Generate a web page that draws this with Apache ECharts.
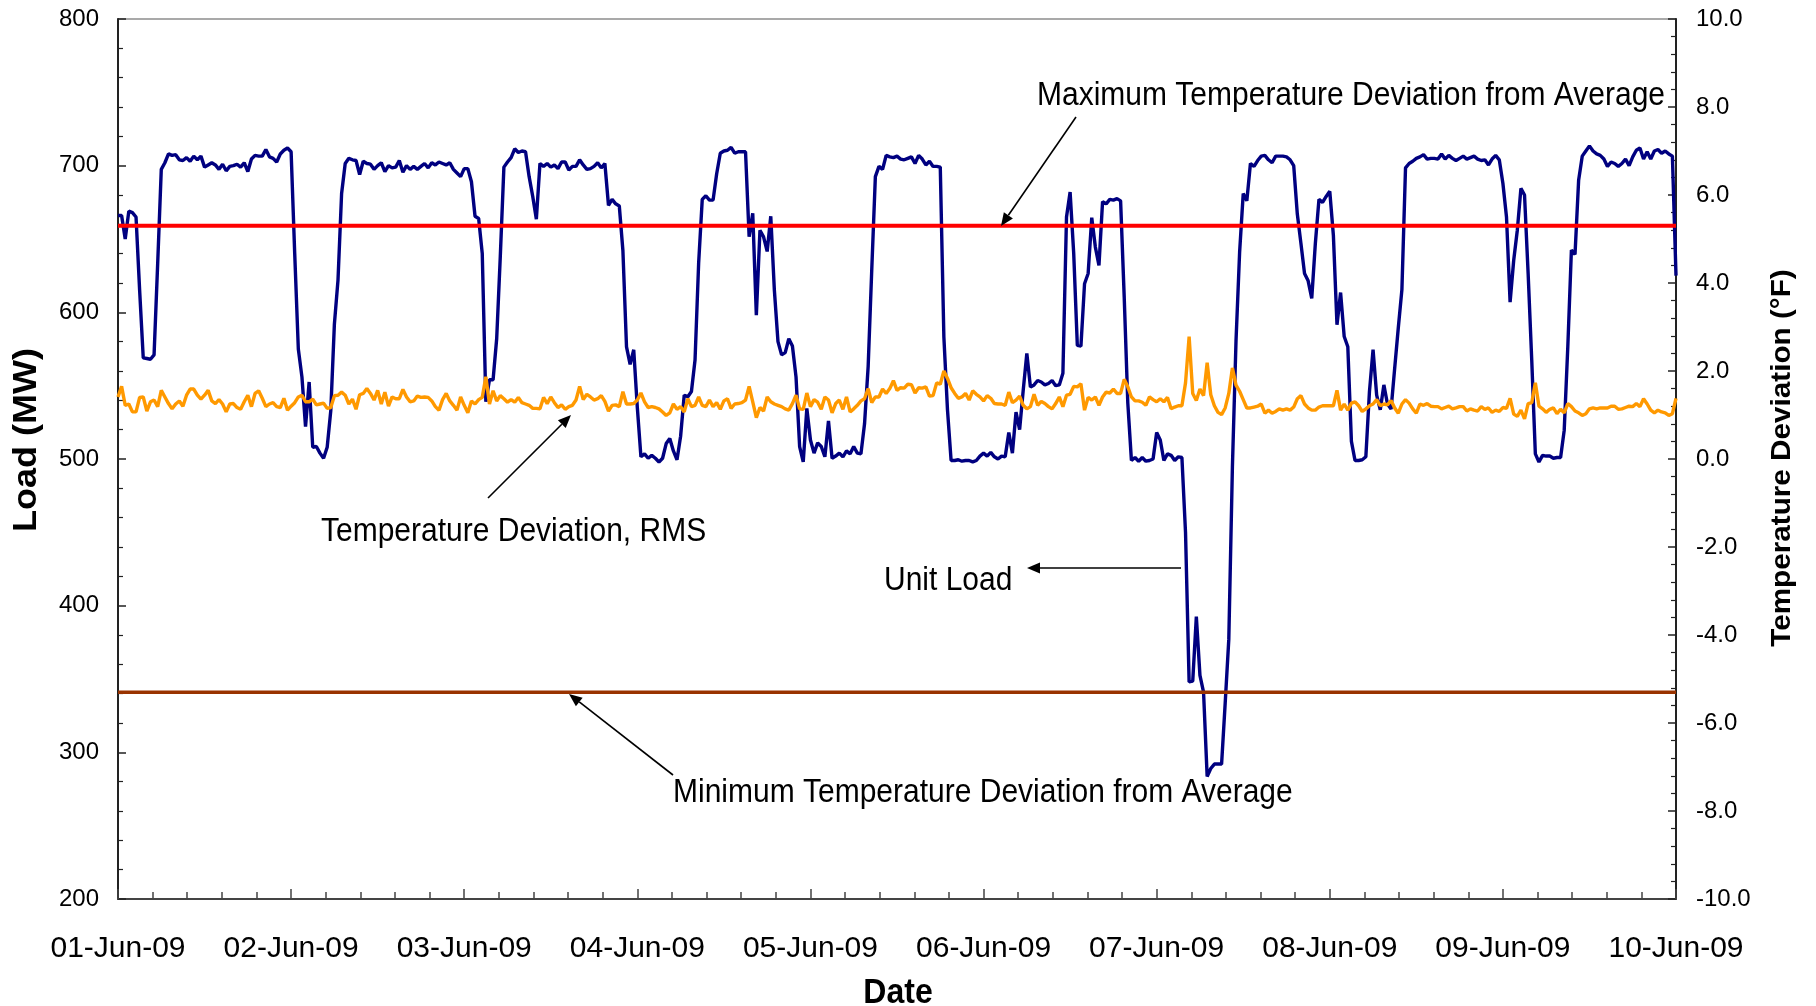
<!DOCTYPE html>
<html>
<head>
<meta charset="utf-8">
<script src="https://cdn.jsdelivr.net/npm/echarts@6/dist/echarts.min.js"></script>
<style>
  html, body { margin: 0; padding: 0; background: #ffffff; }
  #chart { width: 1816px; height: 1006px; }
</style>
</head>
<body>
<div id="chart"></div>
<script>
// Day labels for the x axis (one per 24 h tick)
const dateLabels = ['01-Jun-09', '02-Jun-09', '03-Jun-09', '04-Jun-09', '05-Jun-09',
                    '06-Jun-09', '07-Jun-09', '08-Jun-09', '09-Jun-09', '10-Jun-09'];

// Readings are logged every half hour starting 01-Jun-09 00:00
const sampleHours = 0.5;

// Unit load, MW
const unitLoad = [
  666, 666, 650, 669, 668, 665, 615, 569, 568.5, 568,
  571, 633, 697.5, 702, 708, 707, 707.5, 704, 703.5, 705.5,
  703, 706.5, 704, 706.5, 699, 700.5, 702, 700.5, 697.5, 701,
  696.5, 699.5, 700, 701, 699, 702, 696, 704.5, 707, 706.5,
  706.5, 711, 706, 705, 702.5, 708, 710.5, 712, 709.5, 640,
  575, 556, 522, 552.5, 508, 508.5, 504, 500.5, 508, 533,
  592, 622, 681, 701.5, 705, 704, 703.5, 694, 703, 701.5,
  701, 697.5, 700, 702, 696, 700, 698.5, 699, 703.5, 695.5,
  700, 697.5, 699.5, 697.5, 699.5, 701.5, 698.5, 702, 700.5, 702.5,
  701.5, 700.5, 702, 697.5, 695, 692.5, 698, 698, 689, 665.5,
  664, 640, 539, 554, 554, 582, 638, 699, 702.5, 705.5,
  711.5, 709, 710, 709.5, 692.5, 679, 663.5, 701.5, 699.5, 701.5,
  699, 700.5, 698, 702.5, 702.5, 697, 699.5, 699.5, 704, 700.5,
  697.5, 698, 699.5, 702, 698.5, 701.5, 673, 677, 674, 672.5,
  642, 576.5, 564.5, 574.5, 535, 501.5, 503.5, 500.5, 502.5, 500.5,
  498, 500.5, 510.5, 514, 505.5, 499.5, 515.5, 543.5, 542.5, 546,
  567.5, 633.5, 677, 679.5, 676.5, 676.5, 694.5, 708.5, 710, 710.5,
  712.5, 708.5, 709.5, 709.5, 709.5, 651.5, 667.5, 598, 656, 651.5,
  641.5, 665.5, 615, 580, 571, 572.5, 582, 577, 556, 508.5,
  498, 534.5, 513, 504, 511, 508.5, 501.5, 526, 500.5, 502,
  504, 501.5, 505.5, 503.5, 508.5, 504, 503.5, 524, 563, 629,
  692.5, 699.5, 697.5, 707, 706, 705.5, 706.5, 704.5, 704, 705,
  706, 701.5, 707, 704.5, 700.5, 703, 699.5, 699.5, 699, 583,
  533.5, 499, 499, 499.5, 498.5, 499, 499, 498, 499, 502,
  504, 502, 504.5, 501.5, 500, 502, 501.5, 518, 504, 532,
  520, 547, 572, 549, 550.5, 553.5, 552.5, 550.5, 551.5, 553.5,
  550, 550.5, 558.5, 665, 682, 640, 577.5, 577, 619.5, 626.5,
  664.5, 644.5, 632, 675.5, 674, 677, 676.5, 677.5, 676, 610.5,
  538, 499, 501, 498.5, 501, 498.5, 499, 500, 518, 513,
  499, 503.5, 502.5, 499, 501.5, 501, 450, 348, 348.5, 392.5,
  352.5, 341, 283.5, 289, 292, 292, 292, 333.5, 377, 494.5,
  580.5, 641, 681, 676, 701.5, 699.5, 703.5, 706.5, 707, 704,
  702, 706.5, 706.5, 706.5, 706, 704, 700, 667, 647, 626.5,
  621.5, 609.5, 647, 677, 675, 679, 682.5, 652.5, 591.5, 613.5,
  583.5, 576.5, 512, 499, 499, 499.5, 501.5, 546, 574.5, 543.5,
  533.5, 550.5, 537.5, 534, 562, 589.5, 615.5, 698.5, 701.5, 703,
  705, 706, 707.5, 704.5, 705, 705, 704.5, 708, 704.5, 707,
  705, 703.5, 705, 706.5, 704.5, 705.5, 706.5, 704.5, 703.5, 704,
  700.5, 704.5, 707, 704, 688, 665, 607, 635.5, 656, 684.5,
  680, 626.5, 567.5, 503.5, 498, 502.5, 502, 502, 500.5, 501,
  501, 519.5, 576.5, 642.5, 639.5, 690, 706.5, 710, 713.5, 710,
  708, 707, 704.5, 699.5, 702.5, 701.5, 699.5, 701.5, 704.5, 700,
  706, 710.5, 712, 704.5, 709.5, 704.5, 710, 711, 708.5, 710,
  708, 706.5, 625
];

// RMS temperature deviation, deg F
const tempDeviationRms = [
  1.41, 1.65, 1.22, 1.25, 1.07, 1.07, 1.40, 1.41, 1.09, 1.30,
  1.34, 1.19, 1.56, 1.41, 1.26, 1.14, 1.25, 1.32, 1.20, 1.45,
  1.59, 1.59, 1.45, 1.36, 1.45, 1.56, 1.32, 1.26, 1.35, 1.25,
  1.07, 1.25, 1.26, 1.17, 1.13, 1.30, 1.45, 1.19, 1.49, 1.55,
  1.38, 1.19, 1.25, 1.28, 1.19, 1.17, 1.38, 1.11, 1.20, 1.28,
  1.41, 1.45, 1.30, 1.30, 1.36, 1.23, 1.25, 1.27, 1.15, 1.17,
  1.44, 1.45, 1.52, 1.45, 1.25, 1.36, 1.13, 1.46, 1.49, 1.60,
  1.49, 1.34, 1.56, 1.25, 1.52, 1.20, 1.41, 1.37, 1.37, 1.58,
  1.41, 1.30, 1.32, 1.43, 1.40, 1.41, 1.40, 1.32, 1.19, 1.11,
  1.35, 1.49, 1.32, 1.22, 1.11, 1.41, 1.22, 1.05, 1.32, 1.25,
  1.35, 1.40, 1.87, 1.25, 1.55, 1.32, 1.44, 1.37, 1.29, 1.35,
  1.29, 1.40, 1.28, 1.25, 1.22, 1.15, 1.15, 1.14, 1.40, 1.26,
  1.41, 1.28, 1.17, 1.23, 1.13, 1.19, 1.22, 1.34, 1.65, 1.35,
  1.47, 1.41, 1.34, 1.37, 1.44, 1.31, 1.09, 1.22, 1.23, 1.19,
  1.53, 1.25, 1.25, 1.26, 1.34, 1.50, 1.30, 1.17, 1.19, 1.17,
  1.14, 1.07, 0.99, 1.05, 1.25, 1.13, 1.19, 1.07, 1.37, 1.19,
  1.22, 1.41, 1.22, 1.19, 1.34, 1.19, 1.28, 1.13, 1.32, 1.37,
  1.15, 1.25, 1.26, 1.28, 1.34, 1.65, 1.30, 0.94, 1.17, 1.09,
  1.41, 1.30, 1.25, 1.22, 1.19, 1.14, 1.11, 1.26, 1.45, 1.14,
  1.13, 1.50, 1.19, 1.35, 1.29, 1.13, 1.41, 1.34, 1.05, 1.26,
  1.34, 1.13, 1.41, 1.07, 1.14, 1.22, 1.32, 1.37, 1.60, 1.28,
  1.41, 1.41, 1.59, 1.49, 1.60, 1.78, 1.56, 1.62, 1.61, 1.70,
  1.69, 1.50, 1.62, 1.61, 1.64, 1.43, 1.44, 1.73, 1.70, 2.00,
  1.83, 1.62, 1.49, 1.38, 1.41, 1.49, 1.34, 1.55, 1.47, 1.41,
  1.32, 1.44, 1.38, 1.26, 1.25, 1.25, 1.22, 1.52, 1.28, 1.34,
  1.43, 1.22, 1.14, 1.19, 1.47, 1.22, 1.31, 1.26, 1.19, 1.14,
  1.26, 1.41, 1.19, 1.45, 1.47, 1.65, 1.64, 1.71, 1.11, 1.40,
  1.34, 1.41, 1.22, 1.41, 1.52, 1.50, 1.59, 1.49, 1.49, 1.81,
  1.64, 1.41, 1.32, 1.32, 1.29, 1.22, 1.41, 1.35, 1.30, 1.37,
  1.30, 1.40, 1.14, 1.18, 1.21, 1.21, 1.73, 2.78, 1.49, 1.33,
  1.59, 1.44, 2.19, 1.46, 1.21, 1.06, 1.01, 1.16, 1.49, 2.07,
  1.68, 1.54, 1.35, 1.16, 1.16, 1.18, 1.20, 1.25, 1.04, 1.11,
  1.04, 1.08, 1.14, 1.11, 1.14, 1.11, 1.18, 1.37, 1.44, 1.25,
  1.16, 1.11, 1.11, 1.18, 1.21, 1.21, 1.21, 1.21, 1.56, 1.11,
  1.25, 1.11, 1.27, 1.30, 1.21, 1.08, 1.14, 1.21, 1.25, 1.35,
  1.21, 1.25, 1.23, 1.33, 1.16, 1.04, 1.25, 1.35, 1.27, 1.14,
  1.04, 1.25, 1.22, 1.26, 1.20, 1.19, 1.19, 1.14, 1.17, 1.20,
  1.14, 1.16, 1.19, 1.19, 1.09, 1.14, 1.11, 1.09, 1.19, 1.13,
  1.16, 1.06, 1.11, 1.08, 1.17, 1.15, 1.38, 1.02, 0.97, 1.11,
  0.91, 1.26, 1.28, 1.73, 1.20, 1.14, 1.06, 1.13, 1.16, 1.03,
  1.13, 1.05, 1.26, 1.19, 1.09, 1.05, 0.99, 1.03, 1.14, 1.16,
  1.14, 1.16, 1.16, 1.16, 1.20, 1.20, 1.13, 1.14, 1.17, 1.20,
  1.19, 1.26, 1.19, 1.37, 1.25, 1.11, 1.05, 1.11, 1.07, 1.05,
  0.99, 1.03, 1.38
];

// Temperature deviation limits from average, deg F
const maxTempDeviation = 5.3;
const minTempDeviation = -5.3;

const FONT = '"Liberation Sans", Arial, Helvetica, sans-serif';
const spanHours = (dateLabels.length - 1) * 24;

const toPairs = (values) => values.map((v, i) => [i * sampleHours, v]);

function arrow(x1, y1, x2, y2) {
  // straight line from (x1,y1) ending in a filled head at (x2,y2)
  const ang = Math.atan2(y2 - y1, x2 - x1);
  const len = 13, half = 5.5;
  const bx = x2 - len * Math.cos(ang), by = y2 - len * Math.sin(ang);
  const px = -Math.sin(ang) * half, py = Math.cos(ang) * half;
  return [
    { type: 'line', silent: true, z: 100,
      shape: { x1: x1, y1: y1, x2: bx, y2: by },
      style: { stroke: '#000', lineWidth: 1.6 } },
    { type: 'polygon', silent: true, z: 100,
      shape: { points: [[x2, y2], [bx + px, by + py], [bx - px, by - py]] },
      style: { fill: '#000' } }
  ];
}

// Text with a slightly taller than normal glyph shape (stretch along screen y)
function label(text, x, y, font, align, vertical) {
  const el = {
    type: 'text', silent: true, z: 100, x: x, y: y,
    style: {
      text: text, font: font, fill: '#000',
      align: align, verticalAlign: 'middle',
      textAlign: align, textVerticalAlign: 'middle'
    }
  };
  if (vertical) {
    el.rotation = Math.PI / 2;
    el.scaleX = 1.06;
  } else {
    el.scaleY = 1.08;
  }
  return el;
}

const chart = echarts.init(document.getElementById('chart'), null, { renderer: 'canvas' });

const axisLineStyle = { color: '#222', width: 2 };

chart.setOption({
  animation: false,
  backgroundColor: '#ffffff',
  grid: {
    left: 118, right: 140, top: 19, bottom: 107,
    show: true, borderColor: '#555', borderWidth: 1.2, backgroundColor: 'transparent'
  },
  xAxis: {
    type: 'value', min: 0, max: spanHours, interval: 24,
    axisLine: { show: true, onZero: false, lineStyle: { color: '#444', width: 2 } },
    axisTick: { show: true, inside: true, length: 10, lineStyle: { color: '#444', width: 1.5 } },
    minorTick: { show: true, splitNumber: 5, length: 7, lineStyle: { color: '#444', width: 1.5 } },
    splitLine: { show: false },
    axisLabel: {
      formatter: (v) => dateLabels[Math.round(v / 24)],
      fontSize: 30, fontFamily: FONT, color: '#000', margin: 35
    }
  },
  yAxis: [
    {
      type: 'value', min: 200, max: 800, interval: 100, position: 'left',
      axisLine: { show: true, onZero: false, lineStyle: axisLineStyle },
      axisTick: { show: true, inside: true, length: 8, lineStyle: { color: '#222', width: 1.5 } },
      minorTick: { show: true, splitNumber: 5, length: 5, lineStyle: { color: '#222', width: 1.2 } },
      splitLine: { show: false },
      axisLabel: { fontSize: 24, fontFamily: FONT, color: '#000', margin: 19 }
    },
    {
      type: 'value', min: -10, max: 10, interval: 2, position: 'right',
      axisLine: { show: true, onZero: false, lineStyle: axisLineStyle },
      axisTick: { show: true, inside: true, length: 8, lineStyle: { color: '#222', width: 1.5 } },
      minorTick: { show: true, splitNumber: 5, length: 5, lineStyle: { color: '#222', width: 1.2 } },
      splitLine: { show: false },
      axisLabel: {
        formatter: (v) => v.toFixed(1),
        fontSize: 24, fontFamily: FONT, color: '#000', margin: 20
      }
    }
  ],
  series: [
    {
      name: 'Unit Load', type: 'line', yAxisIndex: 0,
      data: toPairs(unitLoad),
      showSymbol: false, smooth: false, z: 2,
      lineStyle: { color: '#000080', width: 3.4 }
    },
    {
      name: 'Temperature Deviation, RMS', type: 'line', yAxisIndex: 1,
      data: toPairs(tempDeviationRms),
      showSymbol: false, smooth: false, z: 3,
      lineStyle: { color: '#FF9900', width: 3.4 }
    },
    {
      name: 'Maximum Temperature Deviation from Average', type: 'line', yAxisIndex: 1,
      data: [[0, maxTempDeviation], [spanHours, maxTempDeviation]],
      showSymbol: false, z: 4,
      lineStyle: { color: '#FF0000', width: 4 }
    },
    {
      name: 'Minimum Temperature Deviation from Average', type: 'line', yAxisIndex: 1,
      data: [[0, minTempDeviation], [spanHours, minTempDeviation]],
      showSymbol: false, z: 4,
      lineStyle: { color: '#993300', width: 3.5 }
    }
  ],
  graphic: {
    elements: [
      // axis titles
      label('Load (MW)', 27, 440, 'bold 34px ' + FONT, 'center', true),
      label('Temperature Deviation (\u00B0F)', 1782, 458, 'bold 28px ' + FONT, 'center', true),
      label('Date', 898, 993, 'bold 32px ' + FONT, 'center', false),
      // annotations
      label('Maximum Temperature Deviation from Average', 1037, 96, '30px ' + FONT, 'left', false),
      ...arrow(1076, 117, 1001, 226),
      label('Temperature Deviation, RMS', 321, 532, '30px ' + FONT, 'left', false),
      ...arrow(488, 498, 571, 415),
      label('Unit Load', 884, 581, '30px ' + FONT, 'left', false),
      ...arrow(1181, 568, 1027, 568),
      label('Minimum Temperature Deviation from Average', 673, 793, '30px ' + FONT, 'left', false),
      ...arrow(673, 775, 569, 694)
    ]
  }
});
</script>
</body>
</html>
